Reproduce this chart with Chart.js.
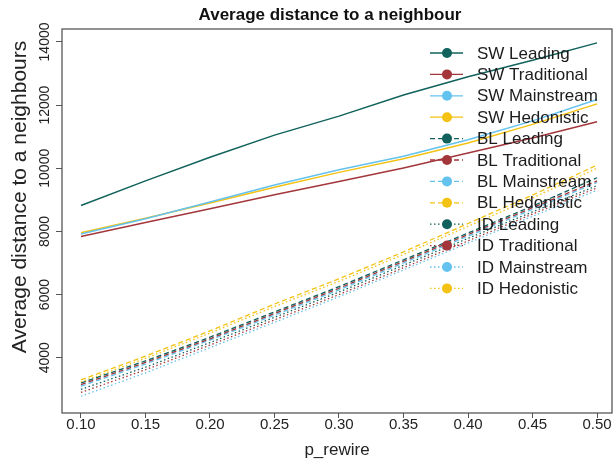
<!DOCTYPE html>
<html>
<head>
<meta charset="utf-8">
<title>Average distance to a neighbour</title>
<script src="https://cdn.jsdelivr.net/npm/chart.js@4.4.1/dist/chart.umd.min.js"></script>
<style>
  html, body { margin: 0; padding: 0; background: #fff; }
  canvas { display: block; }
</style>
</head>
<body>
<canvas id="distChart" width="614" height="462"></canvas>
<script>
// valores de p_rewire en el eje x
const pRewire = [0.10, 0.15, 0.20, 0.25, 0.30, 0.35, 0.40, 0.45, 0.50];
const xTicks = [0.10, 0.15, 0.20, 0.25, 0.30, 0.35, 0.40, 0.45, 0.50];
const yTicks = [4000, 6000, 8000, 10000, 12000, 14000];

// red small-world (SW)
const swLeading     = [8820, 9600, 10350, 11050, 11650, 12320, 12900, 13420, 13970];
const swTraditional = [7840, 8280, 8720, 9160, 9580, 10010, 10480, 10960, 11470];
const swMainstream  = [7920, 8400, 8930, 9470, 9950, 10380, 10900, 11500, 12180];
const swHedonistic  = [7960, 8420, 8900, 9400, 9870, 10300, 10800, 11390, 12040];

// red BL
const blLeading     = [3200, 3900, 4650, 5450, 6250, 7100, 7950, 8800, 9700];
const blTraditional = [3150, 3850, 4600, 5400, 6200, 7050, 7900, 8750, 9600];
const blMainstream  = [3100, 3800, 4560, 5350, 6150, 7000, 7850, 8700, 9550];
const blHedonistic  = [3300, 4050, 4850, 5700, 6500, 7350, 8250, 9150, 10100];

// red ID
const idLeading     = [3000, 3700, 4480, 5280, 6080, 6930, 7780, 8620, 9450];
const idTraditional = [2900, 3620, 4400, 5200, 6000, 6850, 7700, 8550, 9380];
const idMainstream  = [2780, 3520, 4320, 5120, 5930, 6780, 7630, 8480, 9300];
const idHedonistic  = [3230, 3980, 4780, 5620, 6420, 7270, 8160, 9060, 10000];

const labels = [
  "SW Leading", "SW Traditional", "SW Mainstream", "SW Hedonistic",
  "BL Leading", "BL Traditional", "BL Mainstream", "BL Hedonistic",
  "ID Leading", "ID Traditional", "ID Mainstream", "ID Hedonistic"
];
const series = [
  swLeading, swTraditional, swMainstream, swHedonistic,
  blLeading, blTraditional, blMainstream, blHedonistic,
  idLeading, idTraditional, idMainstream, idHedonistic
];

const FONT = '"Liberation Sans", Arial, Helvetica, sans-serif';
const colors = ["#11625c", "#a3363b", "#64c2ee", "#f3c212"];
const dashes = [[], [5, 3], [1.5, 2.5]];

const datasets = series.map((values, i) => ({
  label: labels[i],
  data: values.map((v, j) => ({ x: pRewire[j], y: v })),
  borderColor: colors[i % 4],
  backgroundColor: colors[i % 4],
  borderWidth: i < 4 ? 1.5 : 1.3,
  borderDash: dashes[Math.floor(i / 4)],
  pointRadius: 0,
  fill: false,
  tension: 0
}));

// caja alrededor del área del gráfico
const plotBox = {
  id: "plotBox",
  afterDatasetsDraw(chart) {
    const { ctx, chartArea: a } = chart;
    ctx.save();
    ctx.strokeStyle = "#4a4a4a";
    ctx.lineWidth = 1.2;
    ctx.strokeRect(a.left, a.top, a.right - a.left, a.bottom - a.top);
    ctx.restore();
  }
};

// leyenda dentro del gráfico, línea con punto en medio
const insideLegend = {
  id: "insideLegend",
  afterDraw(chart) {
    const { ctx, chartArea: a } = chart;
    const cx = a.right - 165;
    ctx.save();
    ctx.font = "17px " + FONT;
    ctx.textBaseline = "middle";
    chart.data.datasets.forEach((ds, i) => {
      const y = a.top + 24 + i * 21.4;
      ctx.strokeStyle = ds.borderColor;
      ctx.lineWidth = 1.3;
      ctx.setLineDash(ds.borderDash);
      ctx.beginPath();
      ctx.moveTo(cx - 17, y);
      ctx.lineTo(cx + 16, y);
      ctx.stroke();
      ctx.setLineDash([]);
      ctx.fillStyle = ds.borderColor;
      ctx.beginPath();
      ctx.arc(cx, y, 5, 0, Math.PI * 2);
      ctx.fill();
      ctx.fillStyle = "#1c1c1c";
      ctx.fillText(ds.label, cx + 30, y + 1);
    });
    ctx.restore();
  }
};

// títulos del gráfico y del eje y
const titles = {
  id: "titles",
  afterDraw(chart) {
    const { ctx, chartArea: a } = chart;
    ctx.save();
    ctx.fillStyle = "#111";
    ctx.textAlign = "center";
    ctx.textBaseline = "middle";
    ctx.font = "bold 17px " + FONT;
    ctx.fillText("Average distance to a neighbour", a.left + 268, 15);
    ctx.font = "21px " + FONT;
    ctx.fillStyle = "#222";
    ctx.translate(20, 197);
    ctx.rotate(-Math.PI / 2);
    ctx.fillText("Average distance to a neighbours", 0, 0);
    ctx.restore();
  }
};

new Chart(document.getElementById("distChart"), {
  type: "line",
  data: { datasets },
  plugins: [plotBox, insideLegend, titles],
  options: {
    responsive: false,
    animation: false,
    layout: { padding: { top: 29, right: 2, left: 0, bottom: 0 } },
    plugins: {
      legend: { display: false },
      title: { display: false },
      tooltip: { enabled: false }
    },
    scales: {
      x: {
        type: "linear",
        min: 0.0853,
        max: 0.5116,
        afterBuildTicks: (s) => { s.ticks = xTicks.map((v) => ({ value: v })); },
        afterFit: (s) => { s.height = 49; },
        border: { display: false },
        grid: { drawOnChartArea: false, drawTicks: true, tickLength: 5, color: "#555" },
        ticks: {
          color: "#222",
          padding: -2,
          maxRotation: 0,
          font: { family: FONT, size: 15 },
          callback: (v) => Number(v).toFixed(2)
        },
        title: {
          display: true,
          text: "p_rewire",
          color: "#222",
          font: { family: FONT, size: 17 },
          padding: { top: 0, bottom: 1 }
        }
      },
      y: {
        type: "linear",
        min: 2250,
        max: 14410,
        afterBuildTicks: (s) => { s.ticks = yTicks.map((v) => ({ value: v })); },
        afterFit: (s) => { s.width = 62; },
        border: { display: false },
        grid: { drawOnChartArea: false, drawTicks: true, tickLength: 6, color: "#555" },
        ticks: {
          color: "#222",
          minRotation: 90,
          maxRotation: 90,
          crossAlign: "center",
          padding: -8.5,
          font: { family: FONT, size: 14 },
          callback: (v) => String(v)
        }
      }
    }
  }
});
</script>
</body>
</html>
